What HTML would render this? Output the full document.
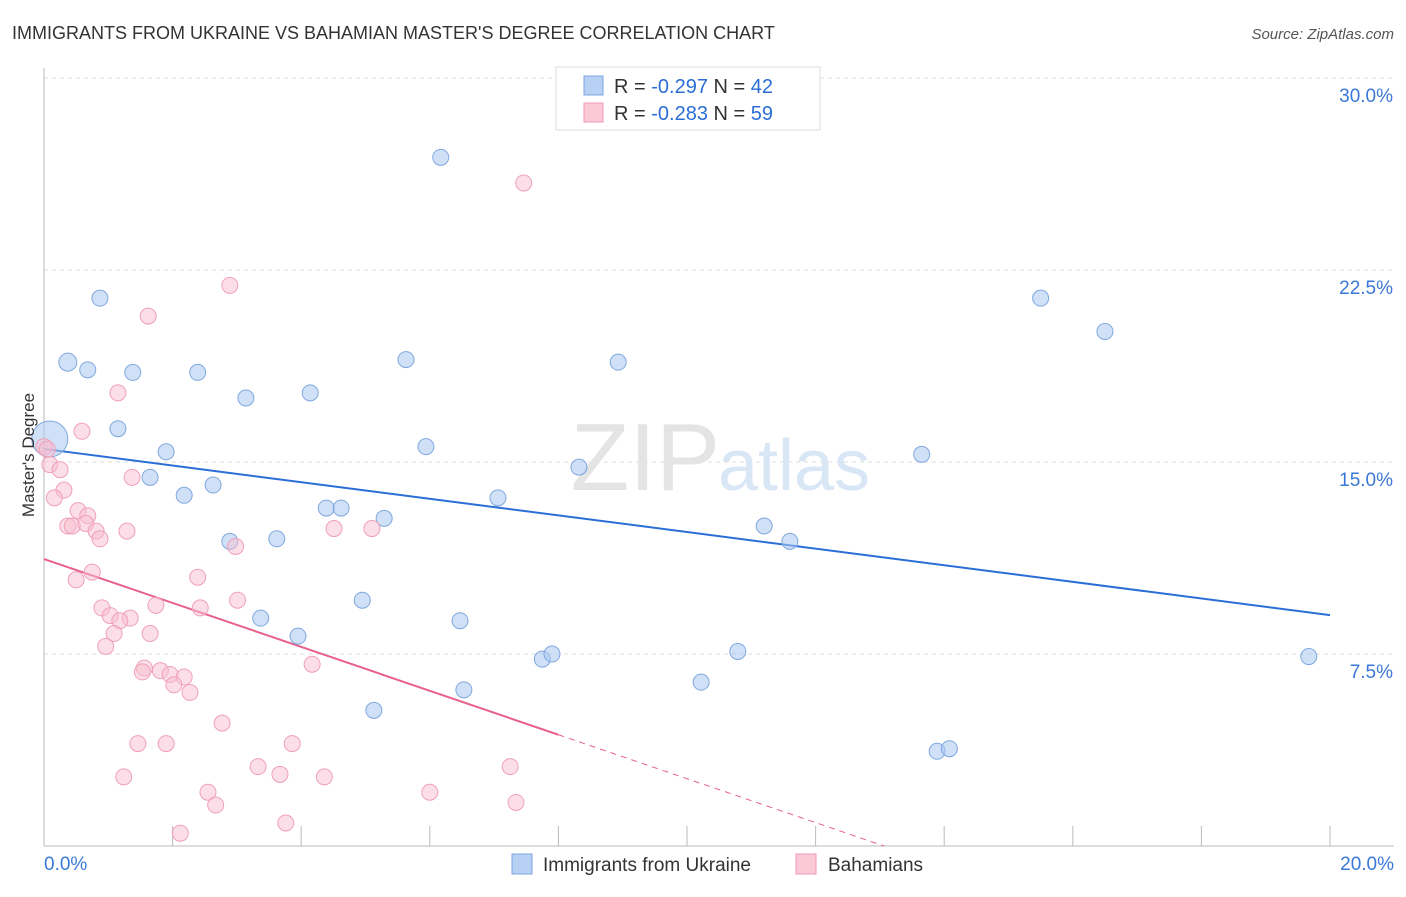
<!DOCTYPE html>
<html><head><meta charset="utf-8"><style>
body{margin:0;background:#fff;font-family:"Liberation Sans",sans-serif;}
svg text{font-family:"Liberation Sans",sans-serif;}
</style></head><body>
<svg id="chart" width="1406" height="892">
<text x="12" y="39" font-size="18" fill="#333">IMMIGRANTS FROM UKRAINE VS BAHAMIAN MASTER'S DEGREE CORRELATION CHART</text>
<text x="1394" y="39" font-size="15" fill="#555" text-anchor="end" font-style="italic">Source: ZipAtlas.com</text>
<g id="grid"></g>
<g id="axes"></g>
<text x="720" y="490" font-size="96" fill="#e4e4e4" text-anchor="end" font-family="Liberation Serif">ZIP</text>
<text x="718" y="490" font-size="72" fill="#d8e6f6">atlas</text>
<g id="lines"></g>
<g id="points"></g>
<text transform="translate(34,455) rotate(-90)" font-size="17" fill="#333" text-anchor="middle">Master's Degree</text>
<g>
<rect x="556" y="67" width="264" height="63" fill="#fff" stroke="#ddd"/>
<rect x="584" y="76" width="19" height="19" fill="#b8d0f4" stroke="#7aa6e0"/>
<text x="614" y="93" font-size="20" fill="#333">R = <tspan fill="#2a6ed6">-0.297</tspan>   N = <tspan fill="#2a6ed6">42</tspan></text>
<rect x="584" y="103" width="19" height="19" fill="#fac8d6" stroke="#f09ab4"/>
<text x="614" y="120" font-size="20" fill="#333">R = <tspan fill="#2a6ed6">-0.283</tspan>   N = <tspan fill="#2a6ed6">59</tspan></text>
</g>
<g>
<rect x="512" y="854" width="20" height="20" fill="#b8d0f4" stroke="#7aa6e0"/>
<text x="543" y="871" font-size="19" fill="#333">Immigrants from Ukraine</text>
<rect x="796" y="854" width="20" height="20" fill="#fac8d6" stroke="#f09ab4"/>
<text x="828" y="871" font-size="19" fill="#333">Bahamians</text>
</g>
</svg>
<script>
const yTicks=[7.5,15,22.5,30];
const yTickLabels=["7.5%","15.0%","22.5%","30.0%"];
const xTicks=[0,2,4,6,8,10,12,14,16,18,20];
const xTickLabels=["0.0%","20.0%"];
const ukraineX=[6.17,0.87,0.37,0.68,1.38,2.39,5.63,8.93,15.5,16.5,3.14,4.14,1.15,1.9,5.94,13.65,1.65,2.18,2.63,8.32,7.06,4.39,4.62,5.29,11.2,11.6,2.89,3.62,4.95,6.47,3.37,3.95,7.75,7.9,10.79,19.67,10.22,6.53,5.13,13.89,14.08,0.09];
const ukraineY=[26.9,21.4,18.9,18.6,18.5,18.5,19.0,18.9,21.4,20.1,17.5,17.7,16.3,15.4,15.6,15.3,14.4,13.7,14.1,14.8,13.6,13.2,13.2,12.8,12.5,11.9,11.9,12.0,9.6,8.8,8.9,8.2,7.3,7.5,7.6,7.4,6.4,6.1,5.3,3.7,3.8,15.9];
const ukraineR=[8,8,9,8,8,8,8,8,8,8,8,8,8,8,8,8,8,8,8,8,8,8,8,8,8,8,8,8,8,8,8,8,8,8,8,8,8,8,8,8,8,18];
const bahamasX=[7.46,2.89,1.62,1.15,0.59,0,0.09,0.25,0.31,0.16,1.37,0.53,0.68,0.37,0.44,0.65,0.81,0.87,1.29,4.51,5.1,2.98,0.75,0.5,2.39,3.01,1.74,0.9,1.03,1.34,1.18,2.43,1.09,1.65,0.96,4.17,1.56,1.53,1.81,1.96,2.18,2.02,2.27,2.77,1.46,1.9,3.86,1.24,3.33,3.67,4.36,7.25,2.55,2.67,6.0,7.34,3.76,2.12,0.05];
const bahamasY=[25.9,21.9,20.7,17.7,16.2,15.6,14.9,14.7,13.9,13.6,14.4,13.1,12.9,12.5,12.5,12.6,12.3,12.0,12.3,12.4,12.4,11.7,10.7,10.4,10.5,9.6,9.4,9.3,9.0,8.9,8.8,9.3,8.3,8.3,7.8,7.1,6.95,6.8,6.85,6.7,6.6,6.3,6.0,4.8,4.0,4.0,4.0,2.7,3.1,2.8,2.7,3.1,2.1,1.6,2.1,1.7,0.9,0.5,15.5];
const ukraineTrend=[15.51,9.02];
const bahamasTrend=[11.21,-0.858];
const ns="http://www.w3.org/2000/svg";
const X=v=>44+v*64.3, Y=v=>846-v*25.6;
function mk(t,a,p){const e=document.createElementNS(ns,t);for(const k in a)e.setAttribute(k,a[k]);p.appendChild(e);return e;}
const grid=document.getElementById('grid'),axes=document.getElementById('axes');
yTicks.forEach((t,i)=>{const l=mk('line',{x1:44,x2:1394,y1:Y(t),y2:Y(t),stroke:'#ddd','stroke-dasharray':'4,4'},grid);


const tx=mk('text',{x:1393,y:Y(t)+24,'font-size':19,fill:'#3a78d8','text-anchor':'end'},axes);tx.textContent=yTickLabels[i];

});
const xl=mk('line',{x1:44,x2:1394,y1:846,y2:846,stroke:'#bbb'},axes);


const yl=mk('line',{x1:44,x2:44,y1:68,y2:846,stroke:'#bbb'},axes);


xTicks.forEach(t=>{const l=mk('line',{x1:X(t),x2:X(t),y1:826,y2:846,stroke:'#bbb'},axes);

});
[[0,'start',44],[20,'end',1394]].forEach((d,i)=>{const tx=mk('text',{x:d[2],y:870,'font-size':19,fill:'#3a78d8','text-anchor':d[1]},axes);tx.textContent=xTickLabels[i];

});
const pts=document.getElementById('points');
ukraineX.forEach((x,i)=>{const c=mk('circle',{cx:X(x),cy:Y(ukraineY[i]),r:ukraineR[i],fill:'rgba(170,200,240,0.55)',stroke:'#7fa8e0','stroke-width':1},pts);

});
bahamasX.forEach((x,i)=>{const c=mk('circle',{cx:X(x),cy:Y(bahamasY[i]),r:8,fill:'rgba(248,190,208,0.5)',stroke:'#f0a0ba','stroke-width':1},pts);

});
const lines=document.getElementById('lines');
const bl=mk('line',{x1:X(0),y1:Y(ukraineTrend[0]),x2:X(20),y2:Y(ukraineTrend[1]),stroke:'#2a6ed6','stroke-width':2},lines);


const bx0=0,bx1=8,bx2=-bahamasTrend[0]/bahamasTrend[1];
const pl=mk('line',{x1:X(bx0),y1:Y(bahamasTrend[0]),x2:X(bx1),y2:Y(bahamasTrend[0]+bahamasTrend[1]*bx1),stroke:'#e8608c','stroke-width':2},lines);


const pd=mk('line',{x1:X(bx1),y1:Y(bahamasTrend[0]+bahamasTrend[1]*bx1),x2:X(bx2),y2:Y(0),stroke:'#e8608c','stroke-width':1,'stroke-dasharray':'6,5'},lines);


</script>
</body></html>
